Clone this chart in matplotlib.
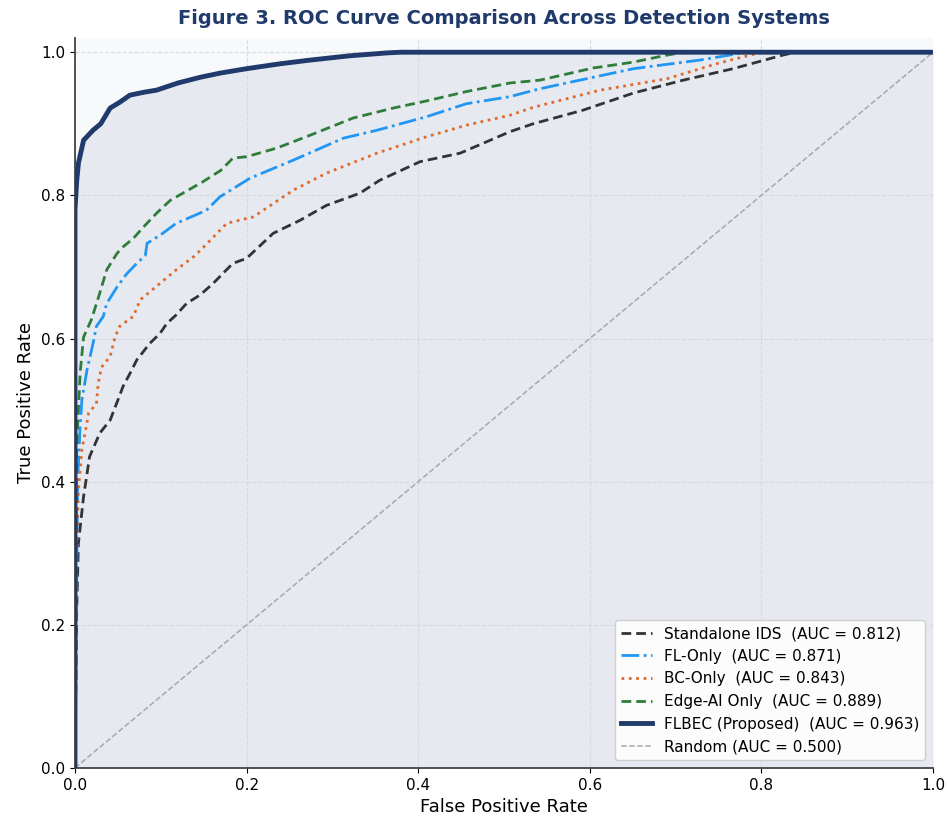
import matplotlib
matplotlib.use("Agg")
import matplotlib.pyplot as plt
import numpy as np

# ROC points (FPR, TPR)
flbec_fpr = [0, 0.0, 0.002, 0.004, 0.01, 0.021, 0.03, 0.041, 0.052, 0.064, 0.08, 0.095, 0.12, 0.146, 0.17, 0.2, 0.24, 0.274, 0.32, 0.363, 0.38, 1.0]
flbec_tpr = [0, 0.78, 0.82, 0.845, 0.877, 0.891, 0.90, 0.922, 0.93, 0.94, 0.944, 0.947, 0.957, 0.965, 0.971, 0.977, 0.984, 0.989, 0.995, 0.999, 1.0, 1.0]

edge_fpr = [0, 0.002, 0.006, 0.01, 0.019, 0.028, 0.037, 0.049, 0.056, 0.068, 0.08, 0.095, 0.111, 0.13, 0.149, 0.17, 0.184, 0.2, 0.235, 0.274, 0.324, 0.371, 0.41, 0.456, 0.507, 0.542, 0.604, 0.65, 0.69, 0.71, 1.0]
edge_tpr = [0, 0.45, 0.552, 0.602, 0.626, 0.66, 0.696, 0.719, 0.728, 0.74, 0.756, 0.775, 0.793, 0.806, 0.819, 0.835, 0.852, 0.854, 0.866, 0.884, 0.908, 0.922, 0.932, 0.945, 0.957, 0.961, 0.978, 0.986, 0.996, 1.0, 1.0]

fl_fpr = [0, 0.003, 0.006, 0.008, 0.014, 0.021, 0.025, 0.033, 0.037, 0.049, 0.06, 0.072, 0.082, 0.084, 0.1, 0.118, 0.153, 0.169, 0.204, 0.254, 0.313, 0.352, 0.41, 0.456, 0.507, 0.542, 0.604, 0.651, 0.728, 0.763, 0.78, 1.0]
fl_tpr = [0, 0.40, 0.477, 0.514, 0.556, 0.593, 0.617, 0.631, 0.649, 0.672, 0.69, 0.705, 0.716, 0.733, 0.745, 0.761, 0.779, 0.798, 0.824, 0.849, 0.88, 0.891, 0.910, 0.928, 0.938, 0.949, 0.965, 0.977, 0.989, 0.996, 1.0, 1.0]

bc_fpr = [0, 0.002, 0.004, 0.008, 0.016, 0.025, 0.027, 0.031, 0.041, 0.047, 0.052, 0.068, 0.076, 0.099, 0.118, 0.138, 0.146, 0.177, 0.208, 0.254, 0.293, 0.352, 0.41, 0.456, 0.507, 0.534, 0.612, 0.69, 0.748, 0.787, 0.80, 1.0]
bc_tpr = [0, 0.30, 0.388, 0.444, 0.496, 0.509, 0.537, 0.56, 0.575, 0.603, 0.617, 0.631, 0.654, 0.677, 0.696, 0.714, 0.723, 0.761, 0.77, 0.807, 0.831, 0.859, 0.882, 0.898, 0.912, 0.923, 0.947, 0.963, 0.984, 0.996, 1.0, 1.0]

ids_fpr = [0, 0.002, 0.004, 0.01, 0.017, 0.029, 0.041, 0.05, 0.056, 0.064, 0.072, 0.087, 0.099, 0.107, 0.118, 0.13, 0.146, 0.161, 0.184, 0.2, 0.231, 0.262, 0.293, 0.332, 0.355, 0.402, 0.449, 0.507, 0.534, 0.592, 0.651, 0.709, 0.767, 0.825, 0.84, 1.0]
ids_tpr = [0, 0.22, 0.314, 0.379, 0.435, 0.468, 0.486, 0.514, 0.533, 0.551, 0.570, 0.593, 0.607, 0.621, 0.633, 0.649, 0.661, 0.677, 0.705, 0.712, 0.747, 0.765, 0.786, 0.803, 0.821, 0.847, 0.859, 0.889, 0.9, 0.919, 0.943, 0.961, 0.977, 0.996, 1.0, 1.0]

labels = ['Standalone IDS  (AUC = 0.812)', 'FL-Only  (AUC = 0.871)', 'BC-Only  (AUC = 0.843)',
          'Edge-AI Only  (AUC = 0.889)', 'FLBEC (Proposed)  (AUC = 0.963)', 'Random (AUC = 0.500)']

navy = '#1f3a6b'

fig = plt.figure(figsize=(9.48, 8.24), dpi=100)
ax = fig.add_axes([0.0791, 0.068, 0.9051, 0.886])
ax.set_facecolor('#f8f9fb')

# shaded area under the proposed curve, kept under the grid
ax.fill_between(flbec_fpr, flbec_tpr, 0, color='#e6e9ef', zorder=0.2, linewidth=0)
ax.plot([0, 1], [0, 1], linestyle='--', color='#a8a8a8', lw=1.1, label=labels[5], zorder=2)

ax.plot(ids_fpr, ids_tpr, linestyle=(0, (3.5, 1.8)), color='#333333', lw=2.0, label=labels[0], zorder=3)
ax.plot(fl_fpr, fl_tpr, linestyle='-.', color='#2196f3', lw=2.0, label=labels[1], zorder=3)
ax.plot(bc_fpr, bc_tpr, linestyle=':', color='#e06a2c', lw=2.0, label=labels[2], zorder=3)
ax.plot(edge_fpr, edge_tpr, linestyle=(0, (3.5, 1.8)), color='#2e7d3a', lw=2.0, label=labels[3], zorder=3)
ax.plot(flbec_fpr, flbec_tpr, linestyle='-', color=navy, lw=3.5, label=labels[4], zorder=4)

ax.set_xlim(0, 1)
ax.set_ylim(0, 1.02)
ax.set_xticks(np.arange(0, 1.01, 0.2))
ax.set_yticks(np.arange(0, 1.01, 0.2))
ax.tick_params(labelsize=11)
ax.grid(True, linestyle='--', color='#d5d8de', alpha=0.9, lw=0.8, zorder=0.5)
ax.set_axisbelow(True)
ax.spines['top'].set_visible(False)
ax.spines['right'].set_visible(False)
ax.spines['left'].set_color('#444444')
ax.spines['bottom'].set_color('#444444')
ax.spines['left'].set_linewidth(1.3)
ax.spines['bottom'].set_linewidth(1.3)

ax.set_xlabel('False Positive Rate', fontsize=13)
ax.set_ylabel('True Positive Rate', fontsize=13)
ax.set_title('Figure 3. ROC Curve Comparison Across Detection Systems',
             fontsize=14, fontweight='bold', color=navy, pad=10)

handles, labs = ax.get_legend_handles_labels()
order = [1, 2, 3, 4, 5, 0]
ax.legend([handles[i] for i in order], [labs[i] for i in order], loc='lower right',
          fontsize=11, framealpha=0.9, edgecolor='#cccccc')

plt.savefig('out.png', dpi=100)
